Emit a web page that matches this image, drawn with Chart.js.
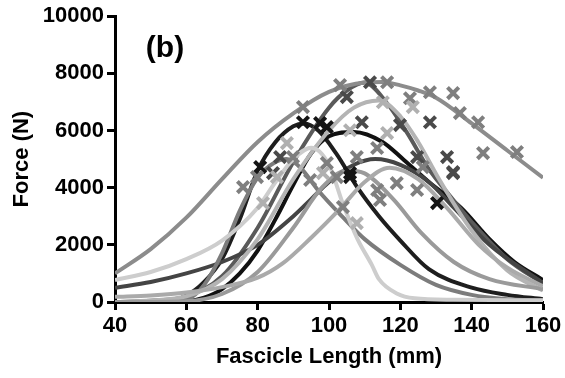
<!DOCTYPE html>
<html>
<head>
<meta charset="utf-8">
<script src="https://cdn.jsdelivr.net/npm/chart.js@4"></script>
<style>
  html, body { margin: 0; padding: 0; background: #fff; }
  canvas { display: block; }
</style>
</head>
<body>
<canvas id="forceChart" width="565" height="378"></canvas>
<script>
// fitted force-length curves, [fascicle length mm, force N]
const curveA = [[40,1000],[50,1850],[60,2950],[70,4300],[80,5600],[90,6600],[100,7350],[110,7680],[115,7700],[120,7580],[125,7400],[130,7150],[140,6250],[150,5300],[160,4350]];
const curveB = [[40,0],[50,40],[60,200],[70,900],[80,2600],[90,4900],[100,6800],[105,7400],[110,7680],[116,7000],[122,5900],[128,4650],[134,3700],[140,2800],[150,1500],[160,650]];
const curveC = [[40,0],[50,50],[60,200],[70,800],[80,2200],[90,4300],[100,6000],[107,6800],[114,7050],[120,6500],[125,5600],[131,4270],[140,2500],[150,1100],[160,400]];
const curveD = [[40,0],[50,10],[55,40],[60,220],[65,700],[70,1500],[75,2900],[80,4600],[85,5600],[90,6150],[93,6250],[97,6000],[102,5200],[108,4000],[114,3000],[120,2150],[128,1150],[140,500],[150,250],[160,100]];
const curveE = [[40,0],[55,0],[60,20],[65,150],[70,450],[75,1000],[80,1800],[85,2900],[90,4100],[95,5200],[100,5800],[107,5950],[115,5600],[121,4970],[128,4200],[137,3300],[145,2200],[152,1400],[160,770]];
const curveF = [[40,500],[50,700],[60,1000],[70,1400],[80,2000],[90,3000],[95,3600],[100,4200],[107,4800],[113,5000],[120,4800],[128,4200],[135,3300],[145,2000],[160,660]];
const curveG = [[40,770],[50,1050],[60,1500],[70,2150],[80,3300],[85,4200],[90,5000],[95,5400],[100,4800],[104,3400],[108,2200],[112,1300],[114,800],[119,300],[124,130],[135,80],[160,60]];
const curveI = [[40,180],[50,230],[60,330],[70,520],[80,850],[87,1350],[95,2250],[103,3250],[110,4200],[117,4700],[125,4300],[133,3300],[142,2000],[150,1200],[160,550]];
const curveJ = [[40,0],[55,0],[60,70],[65,600],[70,1700],[75,3200],[80,4350],[85,4900],[88,5000],[92,4700],[97,3900],[104,2950],[110,2200],[120,1300],[130,600],[140,250],[150,100],[160,50]];
const curveK = [[40,0],[60,30],[70,280],[80,1050],[90,2600],[98,4000],[105,4600],[110,4500],[118,3600],[126,2400],[135,1400],[145,800],[160,450]];

// measured points
const crossBlack = [[130.3,3460],[105.9,4370],[92.7,6290],[97.5,6260],[99.4,6120],[80.7,4720],[105.9,4510]];
const crossDark = [[111.5,7690],[105,7170],[128.3,6290],[119.9,6190],[109.2,6290],[133.1,5070],[124.7,5070],[134.8,4550],[86.3,5070],[84.3,4510],[134.8,4510]];
const crossGrey = [[103.1,7590],[116.3,7690],[92.7,6820],[122.7,7130],[128.3,7340],[134.8,7310],[136.7,6610],[141.8,6290],[143.2,5210],[152.7,5250],[126.3,4720],[119,4160],[107.8,5070],[113.5,5390],[99.4,4860],[102.2,4370],[103.9,3320],[75.9,4020],[79.8,4370],[94.7,4270],[89.9,5070],[124.7,3920],[114.3,3570],[113.5,3920]];
const crossLight = [[123.5,6820],[115.1,6990],[105.9,6010],[116.3,5910],[88.2,5560],[85.4,4370],[98.3,4510],[81.5,3460],[107.8,2760]];

const xTicks = [40, 60, 80, 100, 120, 140, 160];
const yTicks = [0, 2000, 4000, 6000, 8000, 10000];

const FONT = '"Liberation Sans", Arial, sans-serif';

function toXY(arr) {
   return arr.map(p => ({ x: p[0], y: p[1] }));
}

function curve(data, color) {
   return {
      data: toXY(data),
      showLine: true,
      borderColor: color,
      backgroundColor: color,
      borderWidth: 4,
      pointRadius: 0,
      cubicInterpolationMode: "monotone",
      order: 2
   };
}

function crosses(data, color) {
   return {
      data: toXY(data),
      showLine: false,
      pointStyle: "crossRot",
      pointRadius: 8,
      pointBorderWidth: 4,
      borderColor: color,
      backgroundColor: color,
      order: 1
   };
}

// panel letter
const panelLabel = {
   id: "panelLabel",
   afterDraw(chart) {
      const ctx = chart.ctx;
      ctx.save();
      ctx.font = `bold 30px ${FONT}`;
      ctx.fillStyle = "#000";
      ctx.textAlign = "center";
      ctx.textBaseline = "middle";
      ctx.fillText("(b)", 165, 49);
      ctx.restore();
   }
};

const ctx = document.getElementById("forceChart").getContext("2d");
new Chart(ctx, {
   type: "scatter",
   data: {
      datasets: [
         curve(curveI, "#aaaaaa"),
         curve(curveK, "#9a9a9a"),
         curve(curveG, "#cdcdcd"),
         curve(curveC, "#b4b4b4"),
         curve(curveJ, "#7c7c7c"),
         curve(curveF, "#444444"),
         curve(curveA, "#8c8c8c"),
         curve(curveB, "#5a5a5a"),
         curve(curveE, "#111111"),
         curve(curveD, "#1e1e1e"),
         crosses(crossLight, "#b0b0b0"),
         crosses(crossGrey, "#7f7f7f"),
         crosses(crossDark, "#4a4a4a"),
         crosses(crossBlack, "#151515")
      ]
   },
   options: {
      responsive: false,
      animation: false,
      layout: {
         padding: { left: 0, right: 22, top: 16, bottom: 0 }
      },
      plugins: {
         legend: { display: false },
         tooltip: { enabled: false }
      },
      scales: {
         x: {
            type: "linear",
            min: 40,
            max: 160,
            afterBuildTicks(scale) {
               scale.ticks = xTicks.map(v => ({ value: v }));
            },
            afterFit(scale) {
               scale.height = 76;
            },
            grid: {
               drawOnChartArea: false,
               drawTicks: true,
               tickLength: 8,
               tickWidth: 3,
               tickColor: "#000"
            },
            border: { display: true, width: 3, color: "#000" },
            ticks: {
               color: "#000",
               padding: 3,
               maxRotation: 0,
               callback: v => String(v),
               font: { family: FONT, size: 22, weight: "bold" }
            },
            title: {
               display: true,
               text: "Fascicle Length (mm)",
               color: "#000",
               padding: { top: 0, bottom: 8 },
               font: { family: FONT, size: 22, weight: "bold" }
            }
         },
         y: {
            type: "linear",
            min: 0,
            max: 10000,
            afterBuildTicks(scale) {
               scale.ticks = yTicks.map(v => ({ value: v }));
            },
            afterFit(scale) {
               scale.width = 115;
            },
            grid: {
               drawOnChartArea: false,
               drawTicks: true,
               tickLength: 8,
               tickWidth: 3,
               tickColor: "#000"
            },
            border: { display: true, width: 3, color: "#000" },
            ticks: {
               color: "#000",
               padding: 3,
               callback: v => String(v),
               font: { family: FONT, size: 22, weight: "bold" }
            },
            title: {
               display: true,
               text: "Force (N)",
               color: "#000",
               padding: { top: 9, bottom: 0 },
               font: { family: FONT, size: 22, weight: "bold" }
            }
         }
      }
   },
   plugins: [panelLabel]
});
</script>
</body>
</html>
